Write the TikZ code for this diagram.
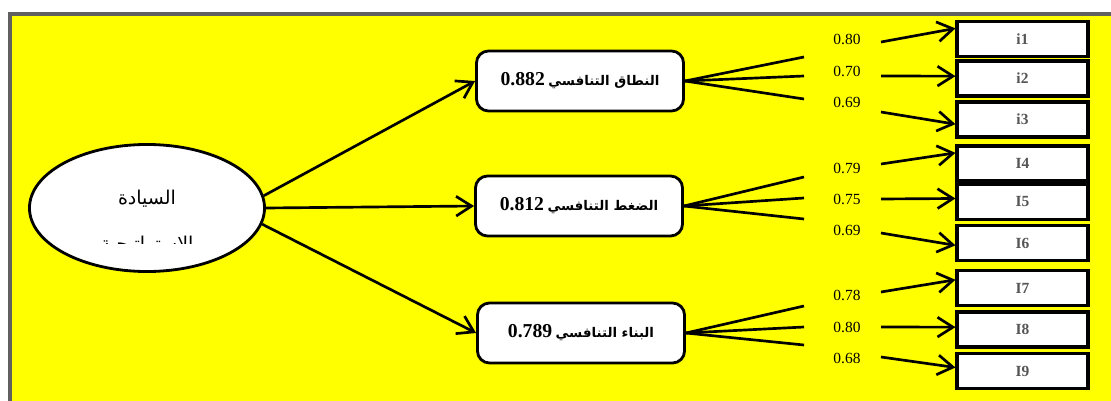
\documentclass[tikz,border=0pt]{standalone}
\usepackage{fontspec}
\setmainfont{Liberation Serif}
\newfontfamily\arabicfont[Script=Arabic]{DejaVu Sans}
\TeXXeTstate=1
\usetikzlibrary{arrows.meta,shapes.geometric}
\definecolor{framegray}{RGB}{96,96,96}
\definecolor{labelgray}{RGB}{85,85,85}
\definecolor{bgyellow}{RGB}{255,255,0}
\tikzset{>={Straight Barb[length=11pt,width=14pt]}}
\tikzstyle{latent}=[ellipse,draw=black,fill=white,line width=2pt,minimum width=5.875cm,minimum height=3.175cm]
\tikzstyle{factor}=[rectangle,draw=black,fill=white,line width=2pt,minimum width=5.175cm,minimum height=1.5cm,rounded corners=0.3cm]
\tikzstyle{indicator}=[rectangle,draw=black,fill=white,line width=2.2pt,minimum width=3.275cm,minimum height=0.875cm,text=labelgray,font=\bfseries\fontsize{11}{12}\selectfont]
\tikzstyle{loading}=[font=\fontsize{11}{12}\selectfont,inner sep=1pt]
\tikzstyle{link}=[line width=1.9pt]

\begin{document}
\begin{tikzpicture}[x=0.025cm,y=-0.025cm]
\useasboundingbox (0,0) rectangle (1111,401);
\draw[draw=framegray,fill=bgyellow,line width=0.1cm] (10,14) rectangle (1125,415);

% latent variable
\node[latent] (dom) at (147,208) {};
\node[font=\arabicfont\fontsize{13.5}{15}\selectfont] (domtop) at (147,199) {\beginR السيادة\endR};
\begin{scope}
\clip (30,150) rectangle (265,243);
\node[font=\arabicfont\fontsize{13.5}{15}\selectfont,anchor=base] (dombot) at (147,250) {\beginR الاستراتيجية\endR};
\end{scope}

% dimensions
\node[factor] (f1) at (580,81)
  {{\bfseries\fontsize{14}{16}\selectfont 0.882} {\arabicfont\bfseries\fontsize{9.5}{11}\selectfont\beginR النطاق التنافسي\endR}};
\node[factor] (f2) at (579,206)
  {{\bfseries\fontsize{14}{16}\selectfont 0.812} {\arabicfont\bfseries\fontsize{9.5}{11}\selectfont\beginR الضغط التنافسي\endR}};
\node[factor] (f3) at (581,333)
  {{\bfseries\fontsize{14}{16}\selectfont 0.789} {\arabicfont\bfseries\fontsize{9.5}{11}\selectfont\beginR البناء التنافسي\endR}};

\draw[link,->] (dom.6) -- (f1.west);
\draw[link,->] (dom.0) -- (f2.west);
\draw[link,->] (dom.-8) -- (f3.west);

% items with loadings
\foreach \ind/\fac/\yy/\fy/\ly/\ay/\ang/\val in {
  i1/f1/39/57/39/42/171/0.80,
  i2/f1/78.5/76/71/76/178/0.70,
  i3/f1/119.5/99/102/112/184/0.69,
  I4/f2/163.5/177/168/164/171/0.79,
  I5/f2/202/198/199/199/177/0.75,
  I6/f2/243/219/230/233/182/0.69,
  I7/f3/288/306/295/292/173/0.78,
  I8/f3/329.5/327/327/327/178/0.80,
  I9/f3/371/345/358/357/177/0.68} {
  \node[indicator] (\ind) at (1022.5,\yy) {\raisebox{-2pt}{\ind}};
  \coordinate (\ind fan) at (804,\fy);
  \coordinate (\ind tail) at (881,\ay);
  \node[loading] (\ind val) at (847,\ly) {\val};
  \draw[link] (\fac.east) -- (\ind fan);
  \draw[link,->] (\ind tail) -- (\ind.\ang);
};

\end{tikzpicture}
\end{document}
